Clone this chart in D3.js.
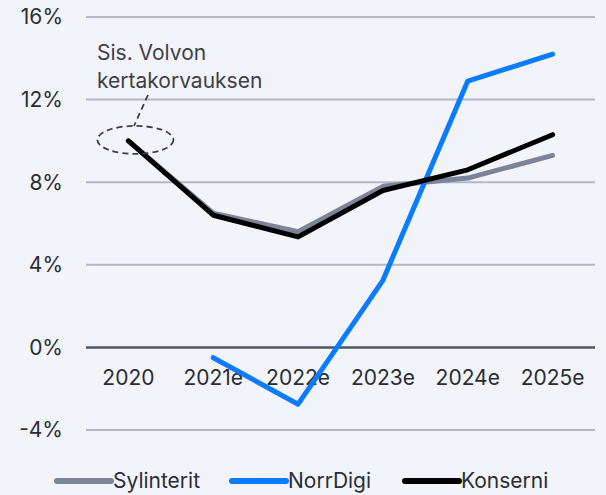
<!DOCTYPE html>
<html>
<head>
<meta charset="utf-8">
<script src="https://cdn.jsdelivr.net/npm/d3@7"></script>
<style>
  body { margin: 0; background: #f2f4f9; }
  svg { display: block; font-family: Inter, "Open Sans", sans-serif; }
</style>
</head>
<body>
<div id="chart"></div>
<script>
// data
const years = ["2020", "2021e", "2022e", "2023e", "2024e", "2025e"];
const sylinterit = [10.0, 6.5, 5.6, 7.8, 8.2, 9.3];
const norrDigi = [null, -0.5, -2.75, 3.25, 12.9, 14.2];
const konserni = [10.0, 6.4, 5.35, 7.6, 8.6, 10.3];
const yTicks = [-4, 0, 4, 8, 12, 16];
const seriesNames = ["Sylinterit", "NorrDigi", "Konserni"];
const seriesColors = ["#7c8497", "#0a7cff", "#000000"];

const width = 606, height = 495;
const margin = {top: 17, right: 11, bottom: 65, left: 86};
const fs = 21;

const svg = d3.select("#chart").append("svg")
    .attr("width", width)
    .attr("height", height);

const x = d3.scalePoint()
    .domain(years)
    .range([margin.left, width - margin.right])
    .padding(0.5);

const y = d3.scaleLinear()
    .domain([-4, 16])
    .range([430, 17]);

// gridlines
svg.append("g")
  .selectAll("line")
  .data(yTicks)
  .join("line")
    .attr("x1", margin.left)
    .attr("x2", width - margin.right)
    .attr("y1", d => y(d))
    .attr("y2", d => y(d))
    .attr("stroke", d => d === 0 ? "#4e5666" : "#b2b8c8")
    .attr("stroke-width", d => d === 0 ? 2.5 : 2);

// y labels
svg.append("g")
  .selectAll("text")
  .data(yTicks)
  .join("text")
    .attr("x", 63)
    .attr("y", d => y(d))
    .attr("dy", "0.35em")
    .attr("text-anchor", "end")
    .attr("font-size", fs)
    .attr("fill", "#2a2d33")
    .text(d => d + "%");

// x labels
svg.append("g")
  .selectAll("text")
  .data(years)
  .join("text")
    .attr("x", d => x(d))
    .attr("y", 385)
    .attr("text-anchor", "middle")
    .attr("font-size", fs)
    .attr("fill", "#2a2d33")
    .text(d => d);

const line = d3.line()
    .defined(d => d.v !== null)
    .x(d => x(d.year))
    .y(d => y(d.v));

const allSeries = [sylinterit, norrDigi, konserni];
allSeries.forEach(function(vals, i) {
  const pts = vals.map((v, j) => ({year: years[j], v: v}));
  svg.append("path")
    .datum(pts)
    .attr("fill", "none")
    .attr("stroke", seriesColors[i])
    .attr("stroke-width", 5)
    .attr("stroke-linecap", "round")
    .attr("stroke-linejoin", "round")
    .attr("d", line);
});

// annotation
const ann = svg.append("g").attr("fill", "#3c4048").attr("font-size", fs);
ann.append("text").attr("x", 97).attr("y", 60).text("Sis. Volvon");
ann.append("text").attr("x", 97).attr("y", 88).text("kertakorvauksen");
svg.append("ellipse")
    .attr("cx", x("2020") + 7)
    .attr("cy", y(10) - 1)
    .attr("rx", 38)
    .attr("ry", 14)
    .attr("fill", "none")
    .attr("stroke", "#3c4048")
    .attr("stroke-width", 1.8)
    .attr("stroke-dasharray", "6,4");
svg.append("line")
    .attr("x1", 148).attr("y1", 95)
    .attr("x2", 134).attr("y2", 126)
    .attr("stroke", "#3c4048")
    .attr("stroke-width", 1.8)
    .attr("stroke-dasharray", "6,4");

// legend
const legendX = [57, 232, 405];
const legend = svg.append("g");
seriesNames.forEach(function(name, i) {
  legend.append("line")
    .attr("x1", legendX[i]).attr("x2", legendX[i] + 54)
    .attr("y1", 481).attr("y2", 481)
    .attr("stroke", seriesColors[i])
    .attr("stroke-width", 6)
    .attr("stroke-linecap", "round");
  legend.append("text")
    .attr("x", legendX[i] + 56)
    .attr("y", 481)
    .attr("dy", "0.35em")
    .attr("font-size", fs)
    .attr("fill", "#2a2d33")
    .text(name);
});
</script>
</body>
</html>
